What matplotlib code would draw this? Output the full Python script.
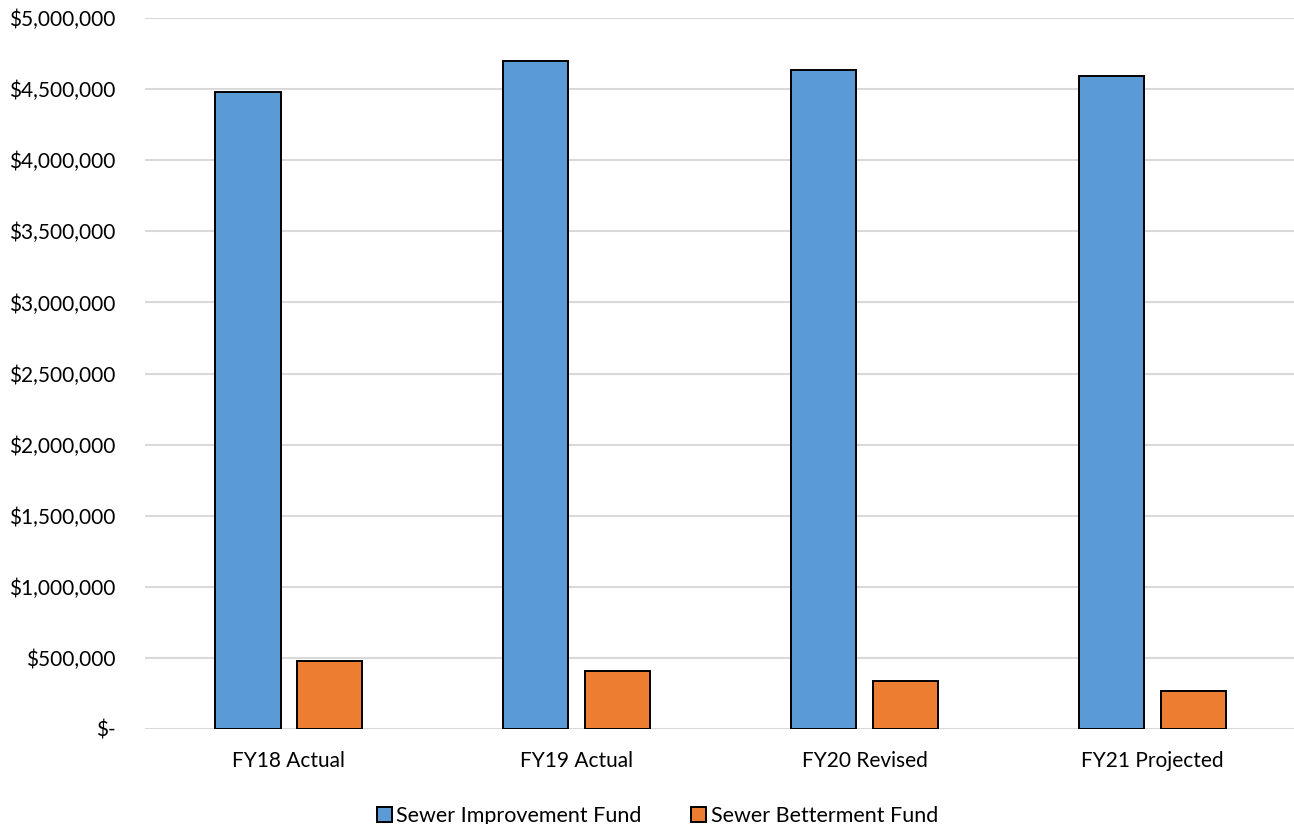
import matplotlib
matplotlib.use('Agg')
import matplotlib.pyplot as plt
import numpy as np
from matplotlib.ticker import FuncFormatter

# ---- data ----
categories  = ['FY18 Actual', 'FY19 Actual', 'FY20 Revised', 'FY21 Projected']
improvement = [4482000, 4700000, 4634000, 4594000]   # Sewer Improvement Fund
betterment  = [478000, 406000, 335000, 265000]       # Sewer Betterment Fund
series_names = ['Sewer Improvement Fund', 'Sewer Betterment Fund']
BLUE, ORANGE = '#5B9BD5', '#ED7D31'

plt.rcParams['font.family'] = ['Lato', 'DejaVu Sans']

fig = plt.figure(figsize=(12.94, 8.24), dpi=100)
ax = fig.add_axes([0.112, 0.1153, 0.89, 0.8627])

x = np.arange(len(categories))
w = 0.226
ax.bar(x - 0.142, improvement, w, color=BLUE, edgecolor='black', lw=1.4,
       label=series_names[0], zorder=3)
ax.bar(x + 0.142, betterment, w, color=ORANGE, edgecolor='black', lw=1.4,
       label=series_names[1], zorder=3)

ax.set_xlim(-0.5, 3.5)
ax.set_ylim(0, 5000000)
ax.set_yticks(np.arange(0, 5000001, 500000))
ax.yaxis.set_major_formatter(FuncFormatter(lambda v, p: '$-' if v == 0 else '${:,.0f}'.format(v)))
ax.set_xticks(x)
ax.set_xticklabels(categories)
ax.tick_params(axis='both', length=0, labelsize=15, colors='#000000')
ax.tick_params(axis='y', pad=21)
ax.tick_params(axis='x', pad=16)
ax.grid(axis='y', color='#D9D9D9', lw=1.5, zorder=0)
for s in ax.spines.values():
    s.set_visible(False)

fig.legend(loc='lower center', bbox_to_anchor=(0.508, -0.026), ncol=2, frameon=False,
           fontsize=15.5, handlelength=0.7, handleheight=0.7, handletextpad=0.2,
           columnspacing=2.3)

plt.savefig('out.png', dpi=100)
